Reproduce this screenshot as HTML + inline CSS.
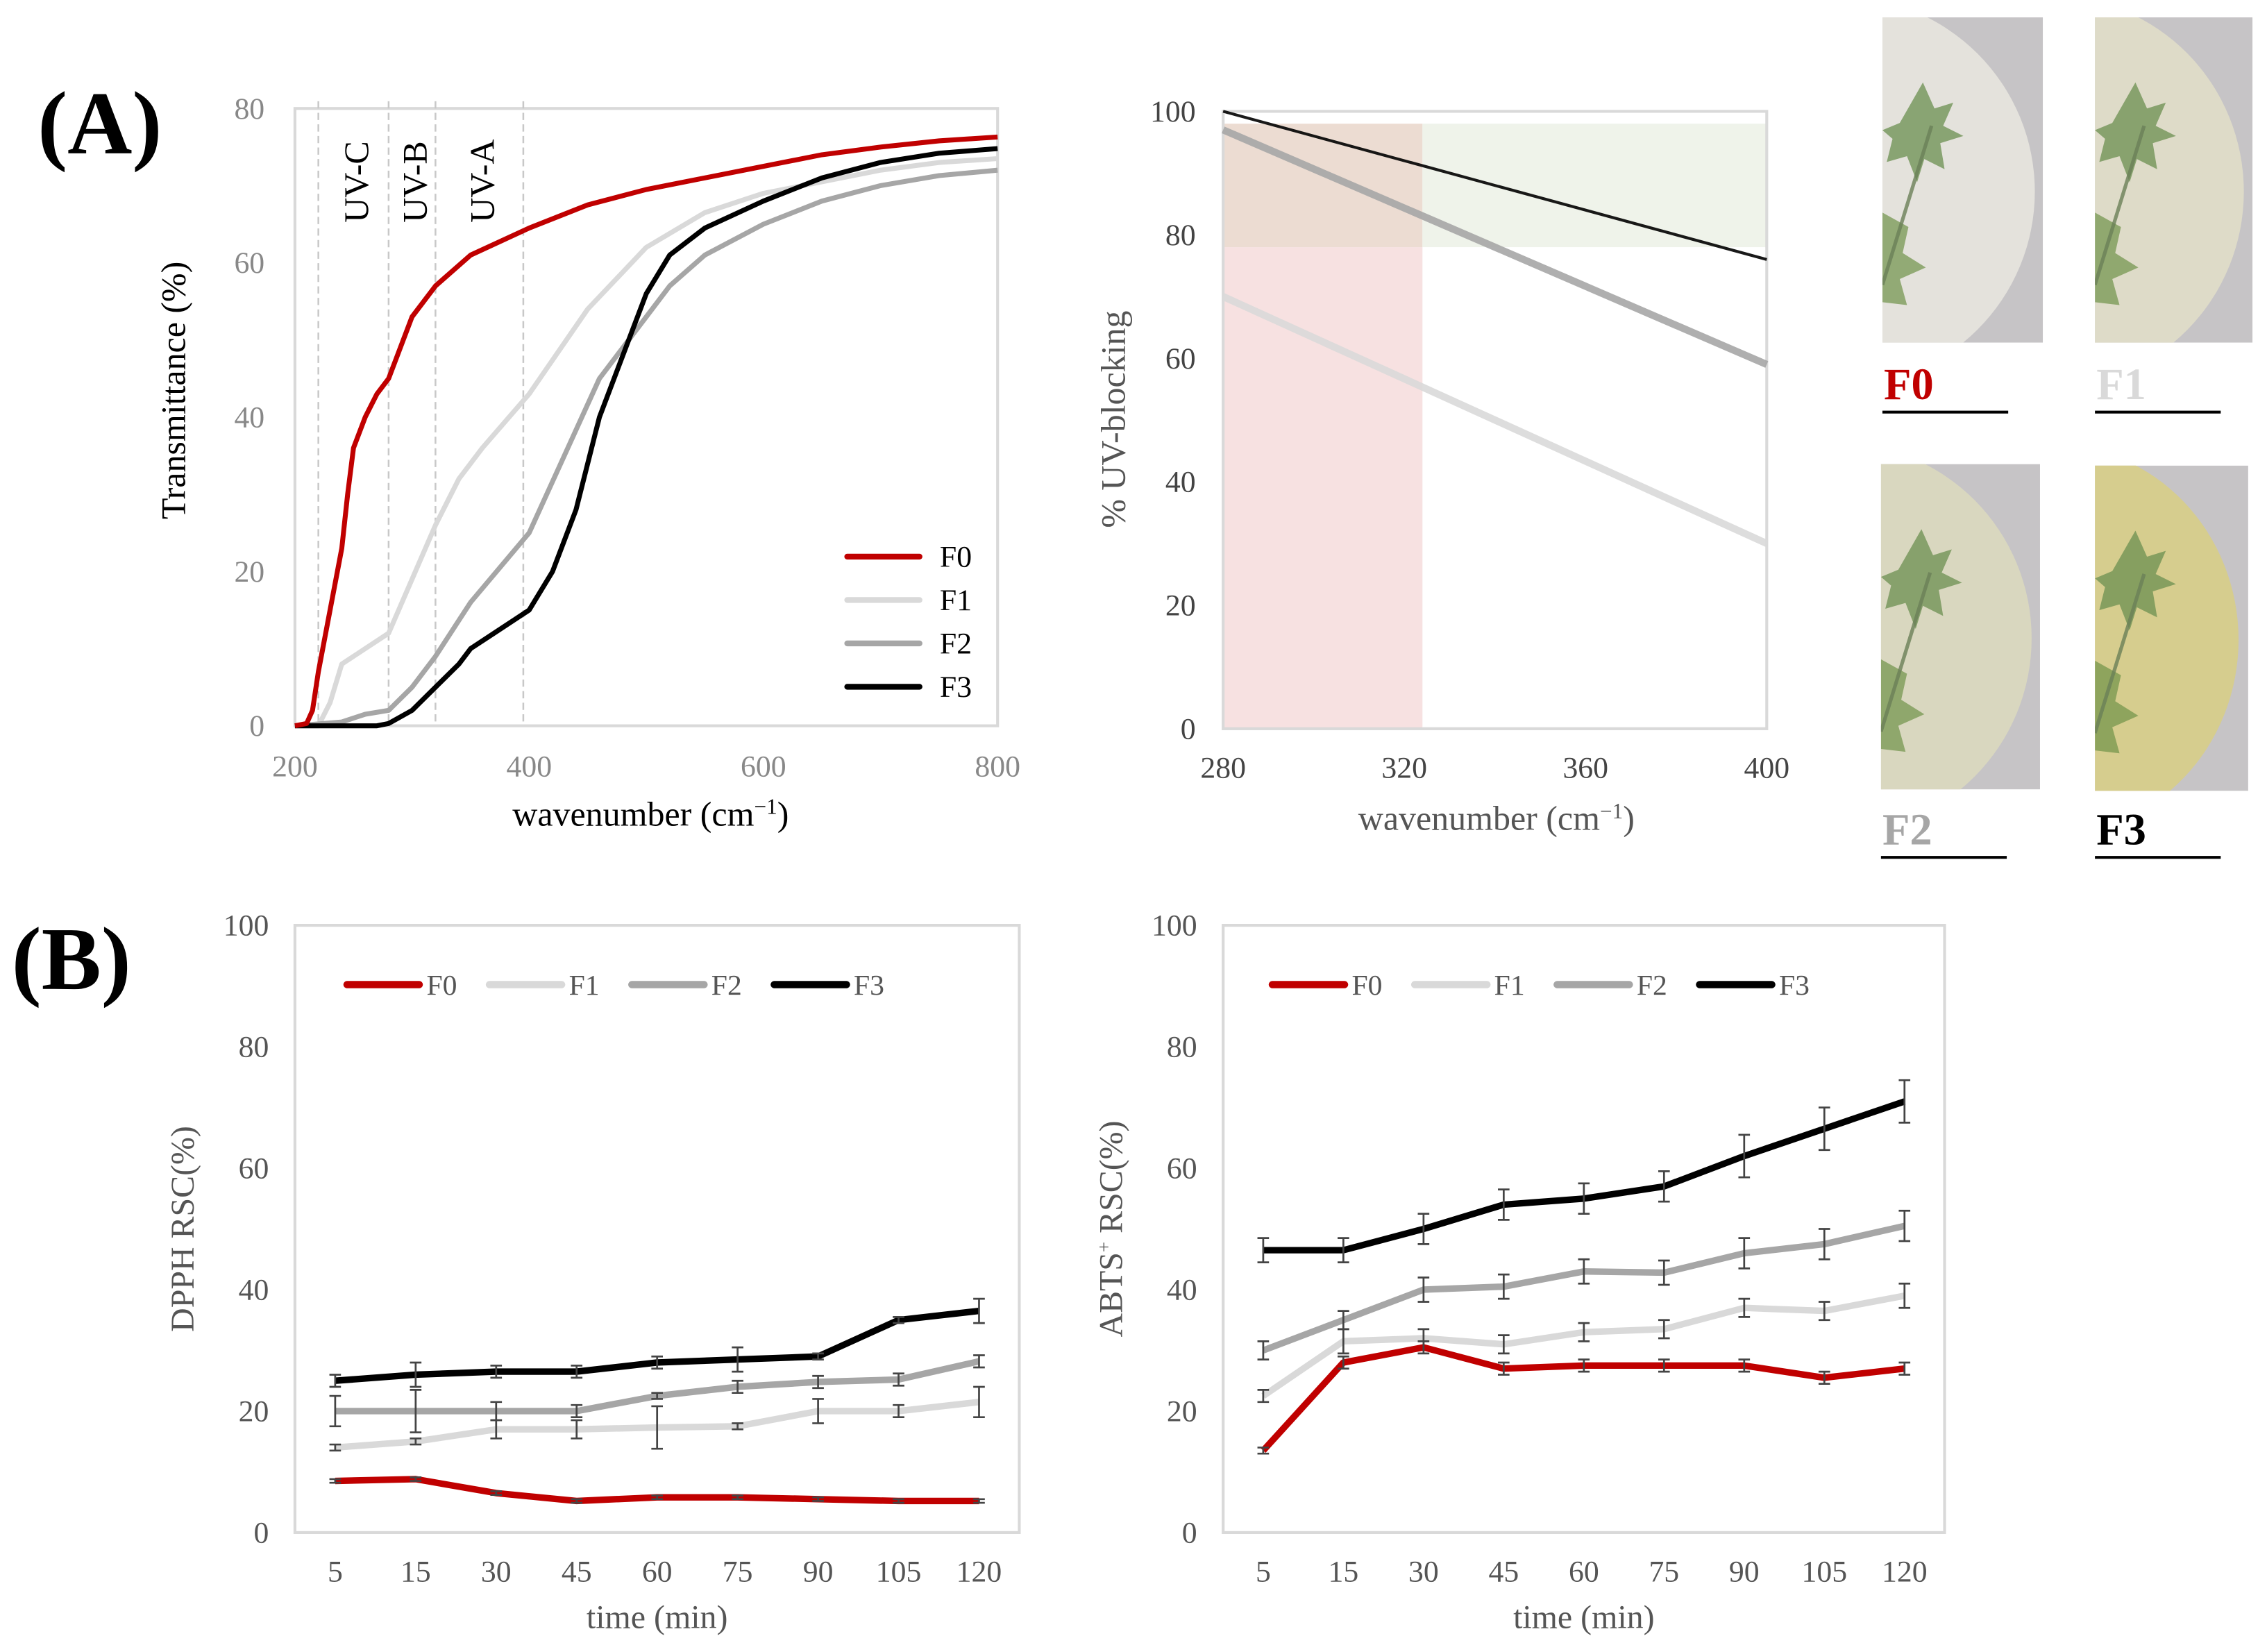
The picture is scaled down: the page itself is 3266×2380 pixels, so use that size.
<!DOCTYPE html>
<html><head><meta charset="utf-8"><style>
html,body{margin:0;padding:0;background:#fff}
svg{display:block}
text{font-family:"Liberation Serif",serif}
</style></head><body>
<svg id="fig" width="3266" height="2380" viewBox="0 0 1568 1142.6" xmlns="http://www.w3.org/2000/svg">
<g id="root"></g>
</svg>
<script>
// ---- Panel A1 data (transmittance) ----
const a1Wave0=[200,210,215,220,230,240,245,250,260,270,280,290,300,320,350,400,450,500,550,600,650,700,750,800];
const a1F0=[0,0.3,2,7,15,23,30,36,40,43,45,49,53,57,61,64.5,67.5,69.5,71,72.5,74,75,75.8,76.3];
const a1Wave1=[200,220,230,240,260,280,300,320,340,360,400,450,500,550,600,650,700,750,800];
const a1F1=[0,0,3,8,10,12,19,26,32,36,43,54,62,66.5,69,70.5,72,73,73.5];
const a1Wave2=[200,240,260,280,300,320,350,400,430,460,500,520,550,600,650,700,750,800];
const a1F2=[0,0.5,1.5,2,5,9,16,25,35,45,53,57,61,65,68,70,71.3,72];
const a1Wave3=[200,270,280,300,320,340,350,370,400,420,440,460,480,500,520,550,600,650,700,750,800];
const a1F3=[0,0,0.3,2,5,8,10,12,15,20,28,40,48,56,61,64.5,68,71,73,74.2,74.8];
const a1XTicks=[200,400,600,800];
const a1YTicks=[0,20,40,60,80];
const uvBounds=[220,280,320,395];
const uvLabels=["UV-C","UV-B","UV-A"];
// ---- Panel A2 data (UV blocking) ----
const a2X=[280,400];
const a2F1=[70,30];
const a2F2=[97,59];
const a2F3=[100,76];
const a2XTicks=[280,320,360,400];
const a2YTicks=[0,20,40,60,80,100];
// ---- Panel B data ----
const times=["5","15","30","45","60","75","90","105","120"];
const dF0=[8.5,8.8,6.5,5.2,5.8,5.8,5.5,5.2,5.2];
const dF1=[14,15,17,17,17.3,17.5,20,20,21.5];
const dF2=[20,20,20,20,22.5,24,24.8,25.2,28.2];
const dF3=[25,26,26.5,26.5,28,28.5,29,35,36.5];
const dE0=[0.3,0.3,0.3,0.3,0.3,0.3,0.3,0.3,0.3];
const dE1=[0.5,0.5,1.5,1.5,3.5,0.5,2,1,2.5];
const dE2=[2.5,3.5,1.5,1,0.5,1,1,1,1];
const dE3=[1,2,1,1,1,2,0.5,0.5,2];
const aF0=[13.5,28,30.5,27,27.5,27.5,27.5,25.5,27];
const aF1=[22.5,31.5,32,31,33,33.5,37,36.5,39];
const aF2=[30,35,40,40.5,43,42.8,46,47.5,50.5];
const aF3=[46.5,46.5,50,54,55,57,62,66.5,71];
const aE0=[0.5,1,1,1,1,1,1,1,1];
const aE1=[1,2,1.5,1.5,1.5,1.5,1.5,1.5,2];
const aE2=[1.5,1.5,2,2,2,2,2.5,2.5,2.5];
const aE3=[2,2,2.5,2.5,2.5,2.5,3.5,3.5,3.5];
const bYTicks=[0,20,40,60,80,100];
const seriesNames=["F0","F1","F2","F3"];
const colors=["#c00000","#d9d9d9","#a6a6a6","#000000"];

const NS="http://www.w3.org/2000/svg";
const root=document.getElementById('root');
function mk(tag,attrs,parent,txt){const e=document.createElementNS(NS,tag);for(const k in attrs)e.setAttribute(k,attrs[k]);if(txt!==undefined)e.textContent=txt;(parent||root).appendChild(e);return e;}
function lin(d0,d1,r0,r1){return v=>r0+(v-d0)/(d1-d0)*(r1-r0);}

// ---- Panel labels ----
let t=mk('text',{x:26,y:106,'font-size':62,'font-weight':'bold'},root,'(A)');

t=mk('text',{x:8,y:684,'font-size':62,'font-weight':'bold'},root,'(B)');


// ---- A1 ----
{
const g=mk('g',{});
const X=lin(200,800,204,690),Y=lin(0,80,502,75);
mk('rect',{x:204,y:75,width:486,height:427,fill:'none',stroke:'#d9d9d9','stroke-width':2},g);
uvBounds.forEach(w=>{const l=mk('line',{x1:X(w),x2:X(w),y1:70,y2:502,stroke:'#c8c8c8','stroke-width':1.2,'stroke-dasharray':'5,3'},g);});
uvLabels.forEach((s,i)=>{const cx=(X(uvBounds[i])+X(uvBounds[i+1]))/2+2;const tt=mk('text',{transform:`translate(${cx+8},154) rotate(-90)`,'font-size':24},g,s);});
a1YTicks.forEach(v=>{const tt=mk('text',{x:183,y:Y(v)+7,'font-size':21,fill:'#888','text-anchor':'end'},g,v);});
a1XTicks.forEach(v=>{const tt=mk('text',{x:X(v),y:537,'font-size':21,fill:'#888','text-anchor':'middle'},g,v);});
const sets=[[a1Wave1,a1F1],[a1Wave2,a1F2],[a1Wave3,a1F3],[a1Wave0,a1F0]],ci=[1,2,3,0];
sets.forEach((s,k)=>{const p=mk('polyline',{points:s[0].map((w,i)=>X(w)+','+Y(s[1][i])).join(' '),fill:'none',stroke:colors[ci[k]],'stroke-width':3.4,'stroke-linejoin':'round'},g);});
seriesNames.forEach((n,i)=>{const y=385+i*30;const l=mk('line',{x1:586,x2:636,y1:y,y2:y,stroke:colors[i],'stroke-width':4,'stroke-linecap':'round'},g);const tt=mk('text',{x:650,y:y+7,'font-size':21},g,n);});
let tt=mk('text',{transform:'translate(128,270) rotate(-90)','font-size':24,'text-anchor':'middle'},g,'Transmittance (%)');
tt=mk('text',{x:450,y:571,'font-size':24,'text-anchor':'middle'},g);
tt.innerHTML='wavenumber (cm<tspan dy="-8" font-size="15">−1</tspan><tspan dy="8">)</tspan>';
}

// ---- A2 ----
{
const g=mk('g',{});
const X=lin(280,400,846,1222),Y=lin(0,100,504,77);
let r=mk('rect',{x:846,y:Y(78),width:X(324)-846,height:504-Y(78),fill:'#f7e1e1'},g);
r=mk('rect',{x:846,y:Y(98),width:X(324)-846,height:Y(78)-Y(98),fill:'#ecdcd2'},g);
r=mk('rect',{x:X(324),y:Y(98),width:1222-X(324),height:Y(78)-Y(98),fill:'#eff3ea'},g);
mk('rect',{x:846,y:77,width:376,height:427,fill:'none',stroke:'#d9d9d9','stroke-width':2},g);
a2YTicks.forEach(v=>{const tt=mk('text',{x:827,y:Y(v)+7,'font-size':21,fill:'#444','text-anchor':'end'},g,v);});
a2XTicks.forEach(v=>{const tt=mk('text',{x:X(v),y:538,'font-size':21,fill:'#444','text-anchor':'middle'},g,v);});
[[a2F1,'#d9d9d9','f1',5],[a2F2,'#a6a6a6','f2',5],[a2F3,'#000','f3',2]].forEach(s=>{const l=mk('line',{x1:X(a2X[0]),y1:Y(s[0][0]),x2:X(a2X[1]),y2:Y(s[0][1]),stroke:s[1],'stroke-width':s[3],'stroke-opacity':0.9},g);});
let tt=mk('text',{transform:'translate(778,290) rotate(-90)','font-size':24,fill:'#555','text-anchor':'middle'},g,'% UV-blocking');
tt=mk('text',{x:1035,y:574,'font-size':24,fill:'#555','text-anchor':'middle'},g);
tt.innerHTML='wavenumber (cm<tspan dy="-8" font-size="15">−1</tspan><tspan dy="8">)</tspan>';
}

// ---- Photos ----
const photos=[{n:'F0',x:1302,y:12,w:111,h:225,film:'#e4e2dc',ly:263,lc:'#c00000'},{n:'F1',x:1449,y:12,w:109,h:225,film:'#dedbc8',ly:263,lc:'#d9d9d9'},{n:'F2',x:1301,y:321,w:110,h:225,film:'#d9d7bf',ly:571,lc:'#a6a6a6'},{n:'F3',x:1449,y:322,w:106,h:225,film:'#d6cd8e',ly:571,lc:'#000'}];
const defs=mk('defs',{});
photos.forEach((p,i)=>{
 const g=mk('g',{});
 const cp=mk('clipPath',{id:'cp'+i},defs);mk('rect',{x:p.x,y:p.y,width:p.w,height:p.h},cp);
 const gg=mk('g',{'clip-path':`url(#cp${i})`},g);
 mk('rect',{x:p.x,y:p.y,width:p.w,height:p.h,fill:'#c6c4c6'},gg);
 mk('ellipse',{cx:p.x-30,cy:p.y+p.h/2+8,rx:p.w*1.22,ry:p.h*0.6,fill:p.film},gg);
 const lx=p.x+28,ly=p.y+45;
 mk('path',{d:`M${lx} ${ly} l8 18 l13 -4 l-7 16 l14 7 l-16 5 l3 18 l-14 -7 l-5 16 l-7 -18 l-14 4 l4 -16 l-7 -6 l12 -5 z`,fill:'#6b8f50','fill-opacity':0.75},gg);
 mk('path',{d:`M${p.x} ${p.y+p.h-90} l18 10 l-4 18 l16 10 l-18 8 l5 18 l-17 -2 z`,fill:'#6f9348','fill-opacity':0.7},gg);
 mk('line',{x1:lx+6,y1:ly+30,x2:p.x,y2:p.y+p.h-40,stroke:'#6a8058','stroke-width':2.5,'stroke-opacity':0.8},gg);
 const tt=mk('text',{x:p.x+1,y:p.ly+13,'font-size':31,'font-weight':'bold',fill:p.lc},g,p.n);
 const l=mk('line',{x1:p.x,x2:p.x+87,y1:p.ly+22,y2:p.ly+22,stroke:'#000','stroke-width':2},g);
});

// ---- B charts ----
function bChart(name,left,right,vals,errs,ytitle,legX){
 const g=mk('g',{});
 const Y=lin(0,100,1060,640),step=(right-left)/times.length,X=i=>left+step*(i+0.5);
 mk('rect',{x:left,y:640,width:right-left,height:420,fill:'none',stroke:'#d9d9d9','stroke-width':2},g);
 bYTicks.forEach(v=>{const tt=mk('text',{x:left-18,y:Y(v)+7,'font-size':21,fill:'#555','text-anchor':'end'},g,v);});
 times.forEach((s,i)=>{const tt=mk('text',{x:X(i),y:1094,'font-size':21,fill:'#555','text-anchor':'middle'},g,s);});
 [1,2,3,0].forEach(k=>{
  const p=mk('polyline',{points:vals[k].map((v,i)=>X(i)+','+Y(v)).join(' '),fill:'none',stroke:colors[k],'stroke-width':4.5,'stroke-linejoin':'round'},g);
  
  vals[k].forEach((v,i)=>{const e=errs[k][i],x=X(i);const eb=mk('path',{d:`M${x} ${Y(v-e)}V${Y(v+e)}M${x-4} ${Y(v-e)}h8M${x-4} ${Y(v+e)}h8`,stroke:'#444','stroke-width':1.3,fill:'none'},g);});
 });
 seriesNames.forEach((n,i)=>{const x=legX+i*98.5;const l=mk('line',{x1:x,x2:x+50,y1:681,y2:681,stroke:colors[i],'stroke-width':5,'stroke-linecap':'round'},g);const tt=mk('text',{x:x+55,y:688,'font-size':20,fill:'#555'},g,n);});
 let tt=mk('text',{transform:`translate(${left-70},850) rotate(-90)`,'font-size':23,fill:'#555','text-anchor':'middle'},g);tt.innerHTML=ytitle;
 tt=mk('text',{x:(left+right)/2,y:1126,'font-size':23,fill:'#555','text-anchor':'middle'},g,'time (min)');
}
bChart('dpph-chart',204,705,[dF0,dF1,dF2,dF3],[dE0,dE1,dE2,dE3],'DPPH RSC(%)',240);
bChart('abts-chart',846,1345,[aF0,aF1,aF2,aF3],[aE0,aE1,aE2,aE3],'ABTS<tspan dy="-8" font-size="13">+</tspan><tspan dy="8"> RSC(%)</tspan>',880);
</script>
</body></html>
